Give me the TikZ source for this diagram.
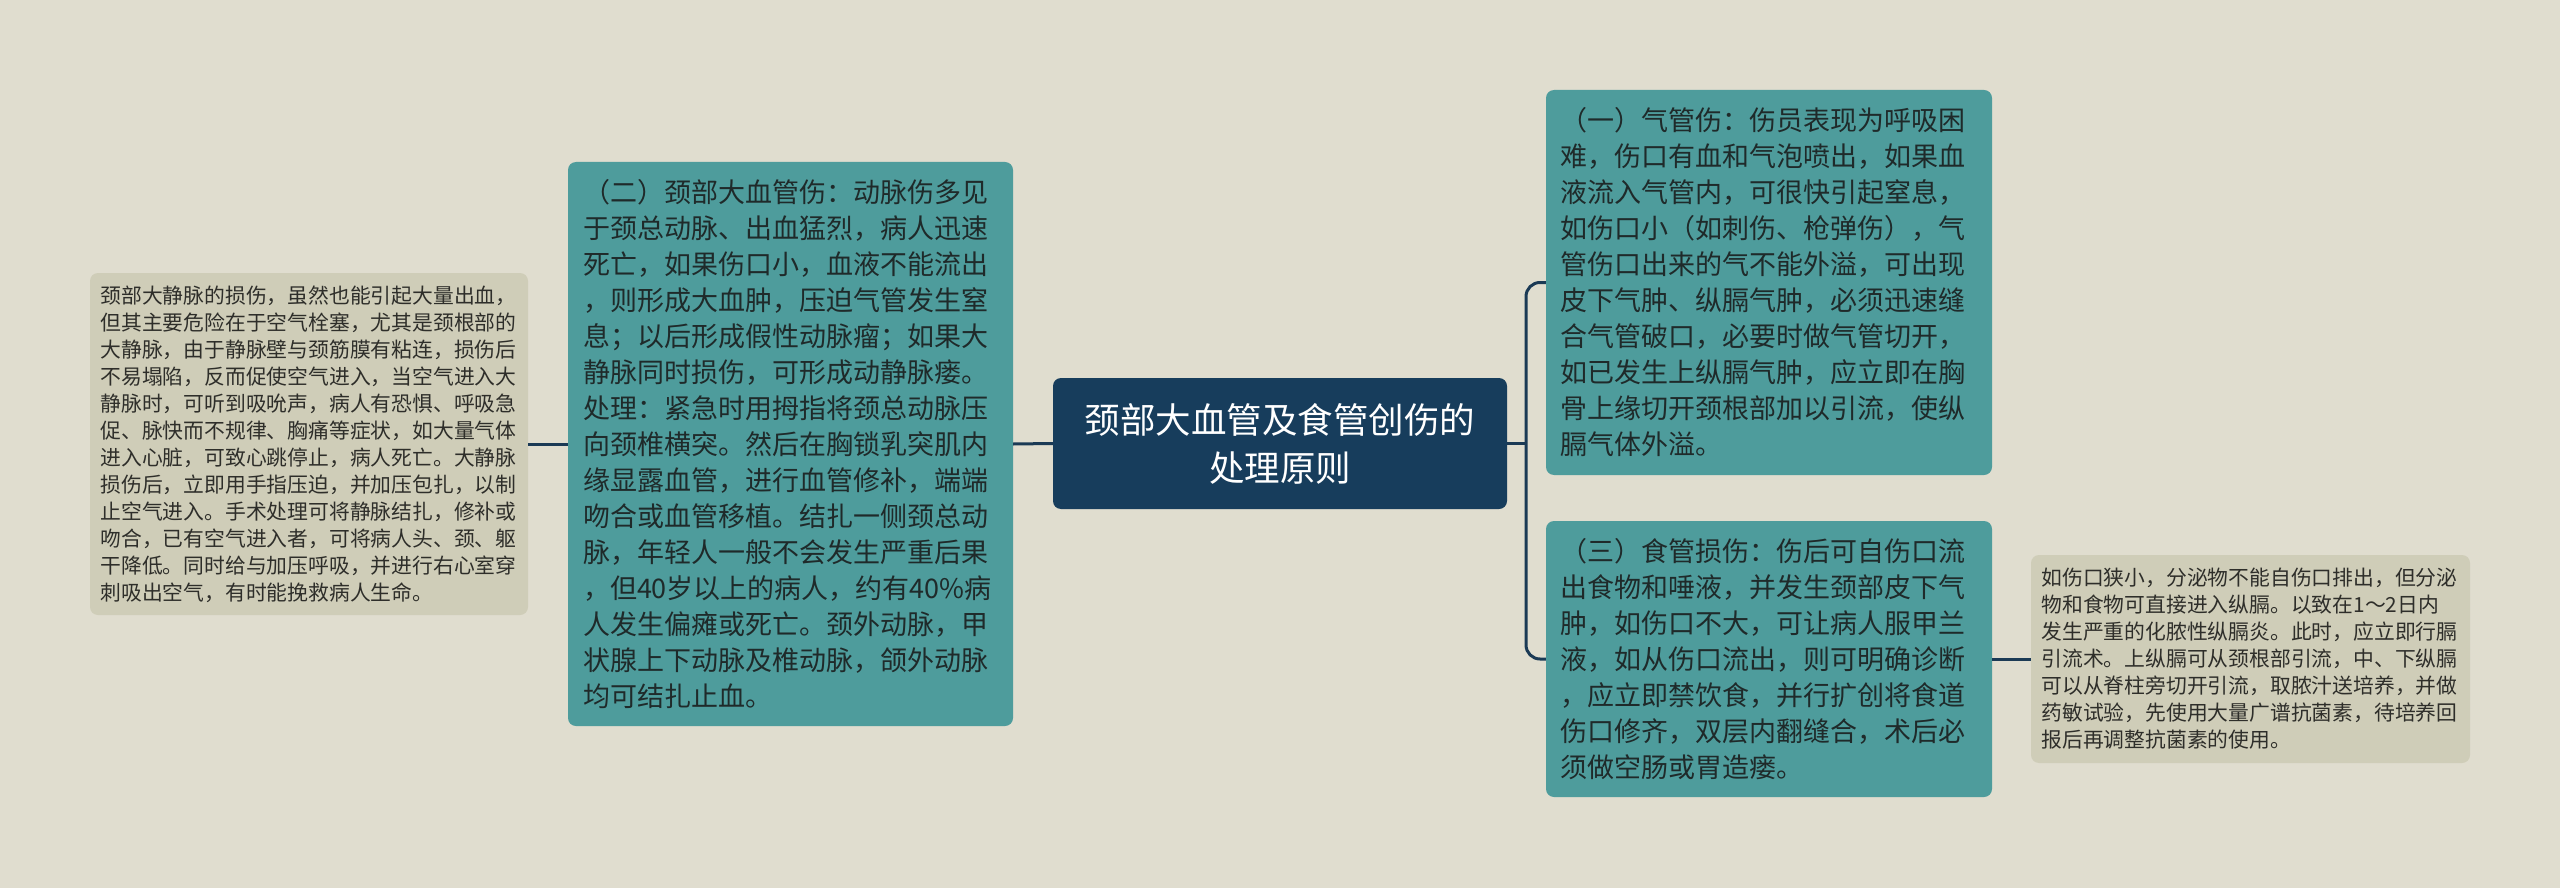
\documentclass[tikz,border=0pt]{standalone}
\usepackage{fontspec}
\setmainfont{Noto Sans CJK SC}
\definecolor{bgc}{HTML}{E0DDCF}
\definecolor{tealc}{HTML}{4E9C9C}
\definecolor{navyc}{HTML}{173D5C}
\definecolor{detc}{HTML}{CFCDB8}
\definecolor{linec}{HTML}{1B3A55}
\definecolor{darktext}{HTML}{1F2A2A}
\definecolor{dettext}{HTML}{2E2E2A}
\begin{document}
\begin{tikzpicture}[x=1pt,y=-1pt,
  boxbase/.style={rounded corners=8pt, inner sep=0pt, anchor=center},
  tealbox/.style={boxbase, fill=tealc, text=darktext, align=left,
    font=\fontsize{27}{36}\selectfont, minimum width=446pt, text width=417pt},
  detbox/.style={boxbase, fill=detc, text=dettext, align=left,
    font=\fontsize{20.8}{27}\selectfont, text width=417pt},
  rootbox/.style={boxbase, fill=navyc, text=white, align=center,
    font=\fontsize{35.5}{48}\selectfont, minimum width=454pt, minimum height=131pt, text width=440pt},
  conn/.style={draw=linec, line width=3pt}
]
\useasboundingbox (0,0) rectangle (2560,888);
\fill[bgc] (0,0) rectangle (2560,888);

\node[rootbox] (c) at (1280,443.5) {颈部大血管及食管创伤的\\处理原则};

\node[tealbox, minimum width=445pt, minimum height=564pt, text width=415pt] (n2) at (790.5,444) {%
（二）颈部大血管伤：动脉伤多见\\
于颈总动脉、出血猛烈，病人迅速\\
死亡，如果伤口小，血液不能流出\\
，则形成大血肿，压迫气管发生窒\\
息；以后形成假性动脉瘤；如果大\\
静脉同时损伤，可形成动静脉瘘。\\
处理：紧急时用拇指将颈总动脉压\\
向颈椎横突。然后在胸锁乳突肌内\\
缘显露血管，进行血管修补，端端\\
吻合或血管移植。结扎一侧颈总动\\
脉，年轻人一般不会发生严重后果\\
，但40岁以上的病人，约有40\%病\\
人发生偏瘫或死亡。颈外动脉，甲\\
状腺上下动脉及椎动脉，颌外动脉\\
均可结扎止血。};

\node[detbox, minimum width=438pt, minimum height=342pt] (ld) at (309,444) {%
颈部大静脉的损伤，虽然也能引起大量出血，\\
但其主要危险在于空气栓塞，尤其是颈根部的\\
大静脉，由于静脉壁与颈筋膜有粘连，损伤后\\
不易塌陷，反而促使空气进入，当空气进入大\\
静脉时，可听到吸吮声，病人有恐惧、呼吸急\\
促、脉快而不规律、胸痛等症状，如大量气体\\
进入心脏，可致心跳停止，病人死亡。大静脉\\
损伤后，立即用手指压迫，并加压包扎，以制\\
止空气进入。手术处理可将静脉结扎，修补或\\
吻合，已有空气进入者，可将病人头、颈、躯\\
干降低。同时给与加压呼吸，并进行右心室穿\\
刺吸出空气，有时能挽救病人生命。};

\node[tealbox, minimum height=385pt] (n1) at (1769,282.5) {%
（一）气管伤：伤员表现为呼吸困\\
难，伤口有血和气泡喷出，如果血\\
液流入气管内，可很快引起窒息，\\
如伤口小（如刺伤、枪弹伤），气\\
管伤口出来的气不能外溢，可出现\\
皮下气肿、纵膈气肿，必须迅速缝\\
合气管破口，必要时做气管切开，\\
如已发生上纵膈气肿，应立即在胸\\
骨上缘切开颈根部加以引流，使纵\\
膈气体外溢。};

\node[tealbox, minimum height=276pt] (n3) at (1769,659) {%
（三）食管损伤：伤后可自伤口流\\
出食物和唾液，并发生颈部皮下气\\
肿，如伤口不大，可让病人服甲兰\\
液，如从伤口流出，则可明确诊断\\
，应立即禁饮食，并行扩创将食道\\
伤口修齐，双层内翻缝合，术后必\\
须做空肠或胃造瘘。};

\node[detbox, minimum width=439pt, minimum height=208pt, text width=418pt] (rd) at (2250.5,659) {%
如伤口狭小，分泌物不能自伤口排出，但分泌\\
物和食物可直接进入纵膈。以致在1～2日内\\
发生严重的化脓性纵膈炎。此时，应立即行膈\\
引流术。上纵膈可从颈根部引流，中、下纵膈\\
可以从脊柱旁切开引流，取脓汁送培养，并做\\
药敏试验，先使用大量广谱抗菌素，待培养回\\
报后再调整抗菌素的使用。};

\coordinate (t) at (1526,443.5);
\draw[conn] (c.west) -- (n2.east);
\draw[conn] (n2.west) -- (ld.east);
\draw[conn] (c.east) -- (t);
\draw[conn, rounded corners=14pt] (n1.west) -| (t) |- (n3.west);
\draw[conn] (n3.east) -- (rd.west);
\end{tikzpicture}
\end{document}
